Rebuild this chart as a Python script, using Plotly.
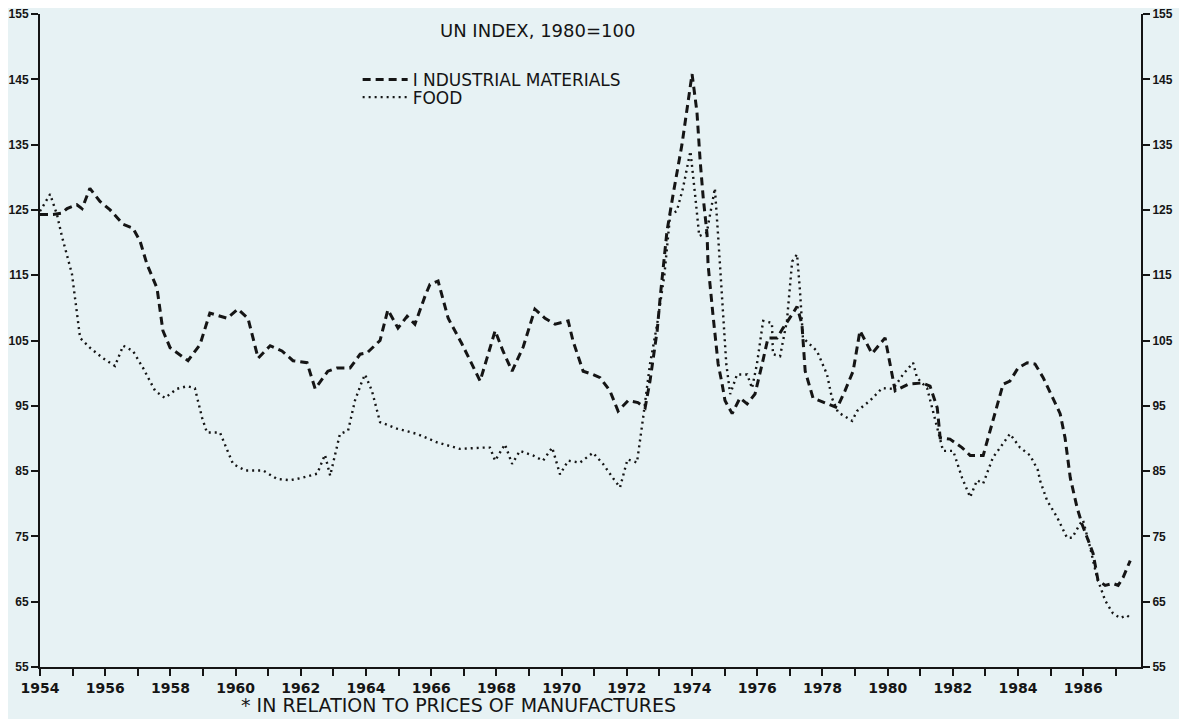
import plotly.graph_objects as go

# ---- data ----
ind_years = [1954.0, 1954.4, 1954.67, 1954.83, 1955.13, 1955.29, 1955.53, 1955.84, 1956.15, 1956.55,
             1956.85, 1957.07, 1957.28, 1957.59, 1957.77, 1957.99, 1958.54, 1958.91, 1959.21, 1959.74,
             1960.07, 1960.38, 1960.69, 1961.06, 1961.42, 1961.76, 1962.19, 1962.44, 1962.83, 1963.11,
             1963.51, 1963.82, 1964.03, 1964.43, 1964.67, 1964.98, 1965.26, 1965.50, 1965.81, 1965.96,
             1966.21, 1966.52, 1966.94, 1967.19, 1967.50, 1967.71, 1967.96, 1968.20, 1968.48, 1968.82,
             1969.18, 1969.49, 1969.80, 1970.20, 1970.35, 1970.66, 1970.96, 1971.18, 1971.48, 1971.73,
             1972.04, 1972.34, 1972.56, 1972.71, 1972.93, 1973.02, 1973.23, 1973.42, 1973.69, 1974.0,
             1974.15, 1974.25, 1974.34, 1974.46, 1974.49, 1974.64, 1974.80, 1974.92, 1975.01, 1975.23,
             1975.47, 1975.69, 1975.93, 1976.15, 1976.33, 1976.61, 1976.79, 1977.07, 1977.22, 1977.37,
             1977.47, 1977.71, 1978.14, 1978.45, 1978.69, 1978.94, 1979.15, 1979.52, 1979.92, 1980.07,
             1980.23, 1980.63, 1981.06, 1981.30, 1981.52, 1981.61, 1981.91, 1982.28, 1982.53, 1982.93,
             1983.14, 1983.36, 1983.54, 1983.75, 1984.0, 1984.28, 1984.52, 1984.77, 1985.07, 1985.29,
             1985.44, 1985.60, 1985.81, 1985.96, 1986.12, 1986.30, 1986.45, 1986.67, 1986.91, 1987.07,
             1987.22, 1987.44]
ind_values = [124.3, 124.3, 124.5, 125.2, 125.8, 125.2, 128.3, 126.3, 125.0, 122.8,
              122.2, 120.2, 116.7, 113.0, 106.5, 103.9, 101.9, 104.4, 109.2, 108.4,
              109.8, 108.4, 102.3, 104.2, 103.4, 101.9, 101.6, 97.6, 100.3, 100.8,
              100.8, 102.9, 103.1, 105.0, 109.7, 106.9, 108.7, 107.5, 111.8, 113.6,
              114.1, 108.4, 104.5, 101.9, 98.8, 102.3, 106.5, 103.4, 100.3, 104.0,
              109.8, 108.4, 107.5, 108.0, 104.9, 100.3, 99.8, 99.3, 97.3, 94.2,
              95.8, 95.5, 94.7, 98.8, 106.5, 111.5, 121.7, 127.4, 135.0, 145.8,
              140.0, 132.4, 127.0, 121.3, 116.7, 109.0, 101.4, 98.4, 95.8, 93.8,
              96.2, 95.3, 96.8, 101.4, 105.4, 105.4, 106.9, 109.0, 110.2, 107.5,
              100.3, 96.2, 95.3, 94.7, 97.3, 100.3, 106.5, 103.0, 105.4, 101.4,
              97.3, 98.3, 98.5, 98.0, 94.7, 90.1, 89.9, 88.6, 87.4, 87.4,
              91.2, 95.3, 98.3, 98.8, 100.8, 101.6, 101.4, 99.3, 96.2, 93.8,
              90.1, 84.0, 79.4, 76.9, 74.8, 72.4, 68.3, 67.5, 67.8, 67.5,
              68.7, 71.3]

food_years = [1954.0, 1954.31, 1954.52, 1954.67, 1954.98, 1955.23, 1955.53, 1955.93, 1956.30, 1956.55,
              1956.85, 1957.16, 1957.53, 1957.83, 1958.20, 1958.51, 1958.75, 1958.97, 1959.12, 1959.52,
              1959.92, 1960.29, 1960.84, 1961.27, 1961.67, 1961.98, 1962.50, 1962.74, 1962.90, 1963.20,
              1963.45, 1963.66, 1963.88, 1963.97, 1964.18, 1964.43, 1964.95, 1965.56, 1966.18, 1966.88,
              1967.59, 1967.80, 1967.96, 1968.26, 1968.48, 1968.72, 1969.12, 1969.43, 1969.71, 1969.95,
              1970.20, 1970.56, 1970.96, 1971.27, 1971.58, 1971.79, 1972.02, 1972.31, 1972.50, 1972.71,
              1972.93, 1973.15, 1973.33, 1973.53, 1973.72, 1973.95, 1974.10, 1974.22, 1974.45, 1974.70,
              1974.80, 1974.95, 1975.05, 1975.17, 1975.38, 1975.69, 1975.84, 1975.99, 1976.18, 1976.45,
              1976.48, 1976.70, 1976.91, 1977.07, 1977.22, 1977.31, 1977.40, 1977.83, 1978.14, 1978.29,
              1978.48, 1978.91, 1979.06, 1979.46, 1979.83, 1980.17, 1980.47, 1980.78, 1980.90, 1981.21,
              1981.39, 1981.52, 1981.70, 1982.01, 1982.28, 1982.53, 1982.74, 1982.93, 1983.05, 1983.23,
              1983.45, 1983.75, 1984.06, 1984.37, 1984.61, 1984.67, 1984.89, 1985.20, 1985.50, 1985.66,
              1985.90, 1985.99, 1986.21, 1986.42, 1986.67, 1986.91, 1987.13, 1987.34, 1987.44]
food_values = [124.8, 127.4, 124.3, 121.0, 115.2, 105.4, 103.9, 102.3, 101.1, 104.2,
               103.4, 100.8, 97.3, 96.2, 97.6, 98.0, 97.7, 93.2, 90.9, 90.9,
               86.1, 85.1, 85.1, 83.8, 83.6, 83.9, 84.6, 87.5, 84.3, 90.7,
               91.2, 95.8, 98.8, 99.8, 97.3, 92.5, 91.5, 90.7, 89.4, 88.4,
               88.6, 88.6, 86.6, 89.1, 86.1, 88.1, 87.4, 86.6, 88.6, 84.5,
               86.6, 86.3, 87.8, 86.1, 83.9, 82.5, 86.8, 86.3, 93.2, 101.4,
               107.5, 115.0, 124.3, 124.8, 128.3, 134.0, 127.0, 121.0, 121.5, 128.3,
               121.0, 109.0, 101.4, 96.8, 99.8, 99.8, 97.7, 101.4, 108.0, 107.7,
               102.9, 102.6, 108.0, 117.1, 118.2, 112.6, 105.4, 103.4, 99.8, 96.2,
               94.0, 92.7, 94.2, 95.8, 97.7, 97.6, 99.8, 101.6, 99.3, 97.7,
               94.2, 91.7, 88.1, 88.1, 84.0, 81.0, 83.6, 83.1, 84.6, 87.1,
               88.6, 90.7, 88.6, 87.4, 85.1, 83.6, 80.5, 77.9, 74.8, 74.8,
               76.9, 77.5, 73.3, 68.7, 65.2, 63.2, 62.5, 62.9, 62.5]

y_ticks = [55, 65, 75, 85, 95, 105, 115, 125, 135, 145, 155]
x_label_years = list(range(1954, 1988, 2))

title_text = "UN INDEX, 1980=100"
footnote_text = "* IN RELATION TO PRICES OF MANUFACTURES"
names = ["I NDUSTRIAL MATERIALS", "FOOD"]

# ---- styling ----
BG = "#e7f2f4"
INK = "#151515"
FONT = "DejaVu Sans"
TICK_FONT_Y = "Liberation Sans"

fig = go.Figure()
fig.add_trace(go.Scatter(x=ind_years, y=ind_values, mode="lines", name=names[0], legend="legend",
                         line=dict(color=INK, width=3, dash="8px,5px")))
fig.add_trace(go.Scatter(x=food_years, y=food_values, mode="lines", name=names[1], legend="legend2",
                         line=dict(color=INK, width=2.4, dash="2px,4px")))
# invisible trace to anchor the right-hand axis
fig.add_trace(go.Scatter(x=ind_years, y=ind_values, mode="lines", yaxis="y2",
                         line=dict(color="rgba(0,0,0,0)", width=0), showlegend=False,
                         hoverinfo="skip"))

axis_y = dict(range=[55, 155], tickvals=y_ticks, ticktext=[str(v) for v in y_ticks],
              ticks="outside", ticklen=7, tickwidth=2, tickcolor=INK, automargin=False,
              ticklabeloverflow="allow",
              showline=True, linewidth=2, linecolor=INK, showgrid=False, zeroline=False,
              tickfont=dict(family=TICK_FONT_Y, size=12, color=INK, weight="bold"))

leg_common = dict(xanchor="left", yanchor="middle", bgcolor="rgba(0,0,0,0)",
                  font=dict(family=FONT, size=17, color=INK), itemwidth=45)

# the page puts the figure 8px in from the top-left corner, so the figure is
# 8px smaller than the window and the margins are shifted accordingly
fig.update_layout(
    width=1179, height=711,
    margin=dict(l=32, r=46, t=6, b=52, autoexpand=False),
    paper_bgcolor=BG, plot_bgcolor=BG,
    font=dict(family=FONT, color=INK),
    showlegend=True,
    legend=dict(x=0.2885, y=0.899, **leg_common),
    legend2=dict(x=0.2885, y=0.872, **leg_common),
    xaxis=dict(range=[1954, 1987.77], tickvals=x_label_years,
               ticktext=[str(v) for v in x_label_years], automargin=False,
               ticks="outside", ticklen=7, tickwidth=2, tickcolor=INK,
               minor=dict(dtick=1, tick0=1954, ticks="outside", ticklen=7, tickwidth=2, tickcolor=INK),
               showline=True, linewidth=2, linecolor=INK, showgrid=False, zeroline=False,
               tickfont=dict(family=FONT, size=14, color=INK, weight="bold")),
    yaxis=dict(side="left", **axis_y),
    yaxis2=dict(side="right", overlaying="y", **axis_y),
    annotations=[
        dict(text=title_text, x=0.452, y=0.975, xref="paper", yref="paper",
             xanchor="center", yanchor="middle", showarrow=False,
             font=dict(family=FONT, size=18, color=INK)),
        dict(text=footnote_text, x=0.38, y=-0.058, xref="paper", yref="paper",
             xanchor="center", yanchor="middle", showarrow=False,
             font=dict(family=FONT, size=19, color=INK)),
    ],
)

fig.write_html("out.html")
